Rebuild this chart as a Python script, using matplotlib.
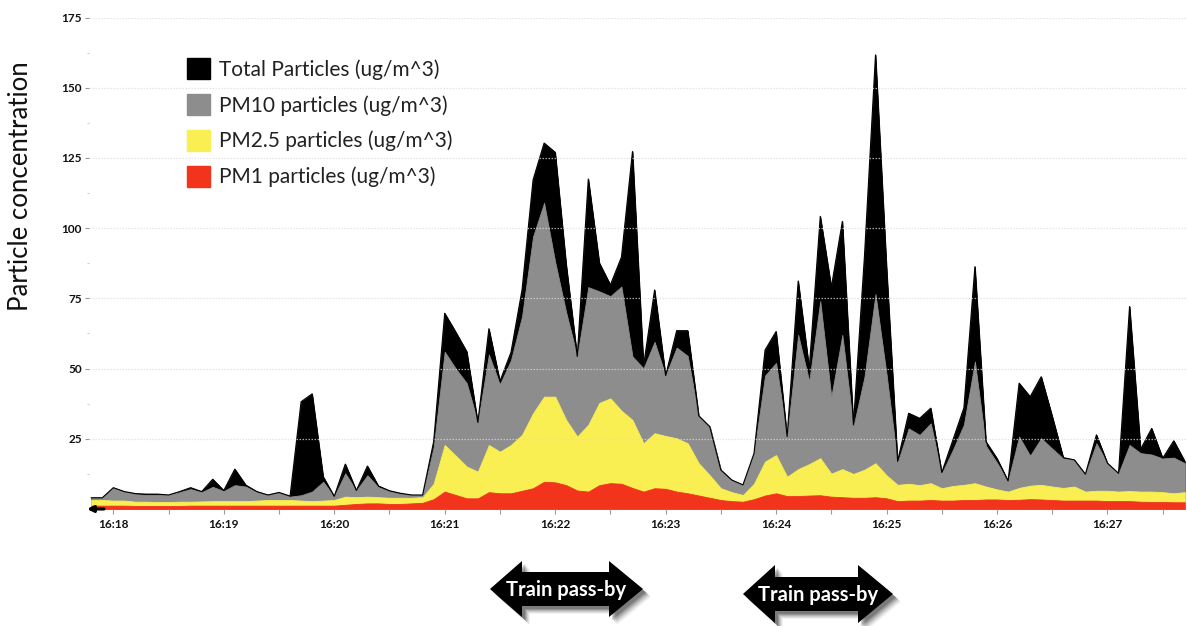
import matplotlib
matplotlib.use("Agg")
import matplotlib.pyplot as plt
import matplotlib.dates as mdates
from matplotlib.patches import Polygon, Patch
import numpy as np
import pandas as pd

plt.rcParams['font.family'] = ['Lato', 'DejaVu Sans']

# ---------------- data (6-second samples, 16:17:48 -> 16:27:42) ----------------
start_time = "2010-01-01 16:17:48"
n_samples = 100
sample_freq = "6s"

total_particles = [
    4.0, 4.0, 7.6, 6.2, 5.5, 5.3, 5.3, 5.0, 6.2, 7.6,
    6.2, 10.6, 6.6, 14.2, 8.5, 6.2, 5.0, 5.9, 4.6, 38.2,
    41.0, 11.5, 4.5, 16.0, 6.6, 15.3, 8.2, 6.5, 5.6, 5.0,
    5.0, 24.0, 69.7, 63.0, 56.0, 30.8, 64.2, 45.5, 55.8, 78.0,
    117.2, 130.3, 127.0, 87.0, 54.3, 117.5, 87.6, 79.8, 89.7, 127.3,
    51.0, 78.0, 47.5, 63.5, 63.5, 33.2, 29.3, 13.9, 10.3, 8.6,
    19.8, 56.6, 63.2, 25.8, 81.2, 50.0, 104.2, 79.0, 102.4, 30.0,
    90.0, 161.7, 86.0, 17.0, 34.1, 32.3, 35.9, 13.0, 24.5, 36.0,
    86.3, 24.0, 18.0, 10.0, 44.8, 40.0, 47.1, 33.0, 18.3, 17.5,
    12.4, 26.4, 16.3, 12.7, 72.1, 21.3, 28.7, 18.1, 24.3, 17.0,
]
pm10 = [
    4.0, 4.0, 7.6, 6.2, 5.3, 5.0, 5.0, 5.0, 6.0, 7.1,
    6.0, 7.9, 6.4, 8.5, 8.0, 6.0, 5.0, 5.8, 4.4, 4.9,
    6.2, 9.7, 4.5, 12.7, 6.6, 12.0, 7.8, 6.3, 5.4, 5.0,
    5.0, 22.0, 56.0, 50.0, 44.8, 30.8, 55.0, 44.4, 53.0, 68.5,
    97.0, 109.0, 88.0, 70.0, 54.3, 79.0, 77.5, 75.8, 79.2, 54.3,
    50.1, 59.5, 47.5, 57.5, 54.5, 33.0, 29.3, 13.9, 10.3, 8.6,
    19.8, 47.5, 52.0, 25.8, 62.0, 45.5, 74.0, 40.0, 62.0, 29.3,
    47.0, 76.5, 48.0, 16.5, 28.7, 26.4, 30.5, 12.7, 21.0, 30.0,
    52.5, 22.5, 16.5, 10.0, 25.8, 19.0, 25.2, 21.5, 18.0, 17.5,
    12.4, 23.4, 16.3, 12.7, 22.8, 19.9, 19.4, 18.0, 18.3, 16.3,
]
pm25 = [
    3.2, 3.2, 3.0, 3.0, 2.6, 2.6, 2.5, 2.5, 2.6, 2.6,
    2.7, 2.8, 2.8, 2.8, 2.8, 3.0, 3.2, 3.2, 3.2, 3.0,
    2.8, 3.0, 3.2, 4.4, 4.2, 4.4, 4.2, 4.0, 4.0, 4.0,
    4.2, 9.0, 22.8, 19.0, 15.1, 13.3, 22.8, 20.4, 22.8, 26.4,
    34.1, 40.0, 40.0, 31.7, 25.8, 30.0, 37.8, 39.4, 35.0, 31.7,
    23.4, 27.0, 26.0, 25.2, 23.4, 16.3, 12.0, 7.4, 6.0, 5.0,
    9.0, 16.9, 19.2, 11.5, 14.2, 16.0, 18.1, 12.6, 14.2, 12.5,
    14.0, 16.3, 12.0, 8.6, 9.0, 8.5, 9.2, 7.4, 8.2, 8.6,
    9.2, 8.0, 7.0, 6.2, 7.5, 8.3, 8.6, 8.0, 7.5, 8.0,
    6.2, 6.5, 6.5, 6.2, 6.4, 6.2, 6.2, 6.0, 5.6, 6.0,
]
pm1 = [
    1.2, 1.2, 1.2, 1.2, 1.1, 1.1, 1.1, 1.1, 1.1, 1.2,
    1.2, 1.2, 1.2, 1.2, 1.2, 1.2, 1.2, 1.2, 1.2, 1.2,
    1.2, 1.2, 1.2, 1.5, 1.8, 2.0, 2.0, 1.8, 1.8, 2.0,
    2.2, 3.5, 6.2, 5.0, 3.8, 3.8, 6.0, 5.6, 5.6, 6.5,
    7.4, 9.7, 9.5, 8.5, 6.6, 6.2, 8.5, 9.2, 9.0, 7.5,
    6.2, 7.4, 7.2, 6.2, 5.6, 4.8, 4.0, 3.2, 2.8, 2.6,
    3.5, 4.8, 5.6, 4.6, 4.6, 4.8, 4.9, 4.4, 4.2, 4.0,
    4.0, 4.2, 3.8, 2.8, 3.0, 3.0, 3.2, 3.0, 3.0, 3.2,
    3.2, 3.4, 3.4, 3.2, 3.3, 3.5, 3.4, 3.2, 3.0, 3.0,
    3.0, 3.0, 2.8, 2.8, 2.8, 2.6, 2.5, 2.5, 2.4, 2.4,
]

series_labels = ["Total Particles (ug/m^3)", "PM10 particles (ug/m^3)",
                 "PM2.5 particles (ug/m^3)", "PM1 particles (ug/m^3)"]
series_colors = ["#000000", "#8d8d8d", "#f9ef52", "#f2341d"]
y_ticks = [25, 50, 75, 100, 125, 150, 175]
y_label = "Particle concentration"
annotation_text = "Train pass-by"

# ---------------- figure ----------------
W, H = 1187, 626
fig = plt.figure(figsize=(W / 100, H / 100), dpi=100)
fig.patch.set_facecolor("white")

def fx(px):
    return px / W

def fy(py):
    return 1 - py / H

ax = fig.add_axes([fx(89), fy(509), 1 - fx(89), (509 - 17.5) / H])

times = pd.date_range(start_time, periods=n_samples, freq=sample_freq)
tnum = mdates.date2num(times.to_pydatetime())

handles = []
for vals, col, lab in zip([total_particles, pm10, pm25, pm1], series_colors, series_labels):
    ax.fill_between(tnum, 0, vals, facecolor=col, edgecolor=col, linewidth=0.6, zorder=1)
    handles.append(Patch(facecolor=col, edgecolor=col, label=lab))
ax.plot(tnum, total_particles, color="#000000", lw=0.8, zorder=1.5)

x0 = mdates.date2num(pd.Timestamp("2010-01-01 16:17:46.8").to_pydatetime())
x1 = mdates.date2num(pd.Timestamp("2010-01-01 16:27:43.2").to_pydatetime())
ax.set_xlim(x0, x1)
ax.set_ylim(0, 175)

for s in ax.spines.values():
    s.set_visible(False)

ax.set_yticks(y_ticks)
ax.set_yticks(np.arange(12.5, 175, 25), minor=True)
ax.xaxis.set_major_locator(mdates.MinuteLocator())
ax.xaxis.set_major_formatter(mdates.DateFormatter("%H:%M"))
ax.xaxis.set_minor_locator(mdates.SecondLocator(bysecond=[30]))

ax.tick_params(axis="y", which="major", length=3, width=0.8, color="#999999",
               pad=2, labelsize=8.5)
ax.tick_params(axis="y", which="minor", length=1.5, width=0.8, color="#cccccc")
ax.tick_params(axis="x", which="both", length=3.5, width=0.8, color="#999999",
               pad=4, labelsize=8.5)
for lab in ax.get_yticklabels() + ax.get_xticklabels():
    lab.set_fontweight("bold")
    lab.set_color("#111111")

ax.set_axisbelow(False)
ax.yaxis.grid(True, which="major", color="#dcdcdc", linestyle=(0, (1.2, 1.2)),
              linewidth=0.9, alpha=0.75)

fig.text(fx(21), fy(186), y_label, rotation=90, ha="center", va="center",
         fontsize=18.5, color="#111111")

leg = ax.legend(handles=handles, loc="upper left",
                bbox_to_anchor=(fx(187), fy(58)), bbox_transform=fig.transFigure,
                frameon=False, fontsize=15, handlelength=1.1, handleheight=1.2,
                handletextpad=0.45, labelspacing=0.68, borderpad=0, borderaxespad=0)
for t in leg.get_texts():
    t.set_color("#222222")

# small scroll arrow at bottom-left
ax.annotate("", xy=(fx(87), fy(509)), xycoords="figure fraction",
            xytext=(fx(104), fy(509)), textcoords="figure fraction",
            arrowprops=dict(arrowstyle="-|>", color="black", lw=2.2,
                            mutation_scale=9, shrinkA=0, shrinkB=0))

# ---------------- Train pass-by arrows ----------------
def double_arrow(xl, xr, yc, base_l, base_r, hh, sh):
    return [(xl, yc), (base_l, yc - hh), (base_l, yc - sh), (base_r, yc - sh),
            (base_r, yc - hh), (xr, yc), (base_r, yc + hh), (base_r, yc + sh),
            (base_l, yc + sh), (base_l, yc + hh)]

arrows = [(490, 643, 589, 522, 609, 28, 17), (743, 893, 594, 775, 858, 29, 17)]
for (xl, xr, yc, bl, br, hh, sh) in arrows:
    pts = double_arrow(xl, xr, yc, bl, br, hh, sh)
    for k, a in [(8, 0.05), (7, 0.07), (6, 0.09), (5, 0.12), (4, 0.15), (3, 0.18)]:
        sp = [(fx(px + k), fy(py + k)) for px, py in pts]
        fig.patches.append(Polygon(sp, closed=True, transform=fig.transFigure,
                                   facecolor="#000000", edgecolor="none", alpha=a,
                                   zorder=3))
    fp = [(fx(px), fy(py)) for px, py in pts]
    fig.patches.append(Polygon(fp, closed=True, transform=fig.transFigure,
                               facecolor="#000000", edgecolor="none", zorder=4))
    fig.text(fx((xl + xr) / 2), fy(yc + 1), annotation_text, ha="center", va="center",
             color="white", fontsize=14.5, fontweight="bold", zorder=5)

fig.savefig("out.png", dpi=100)
